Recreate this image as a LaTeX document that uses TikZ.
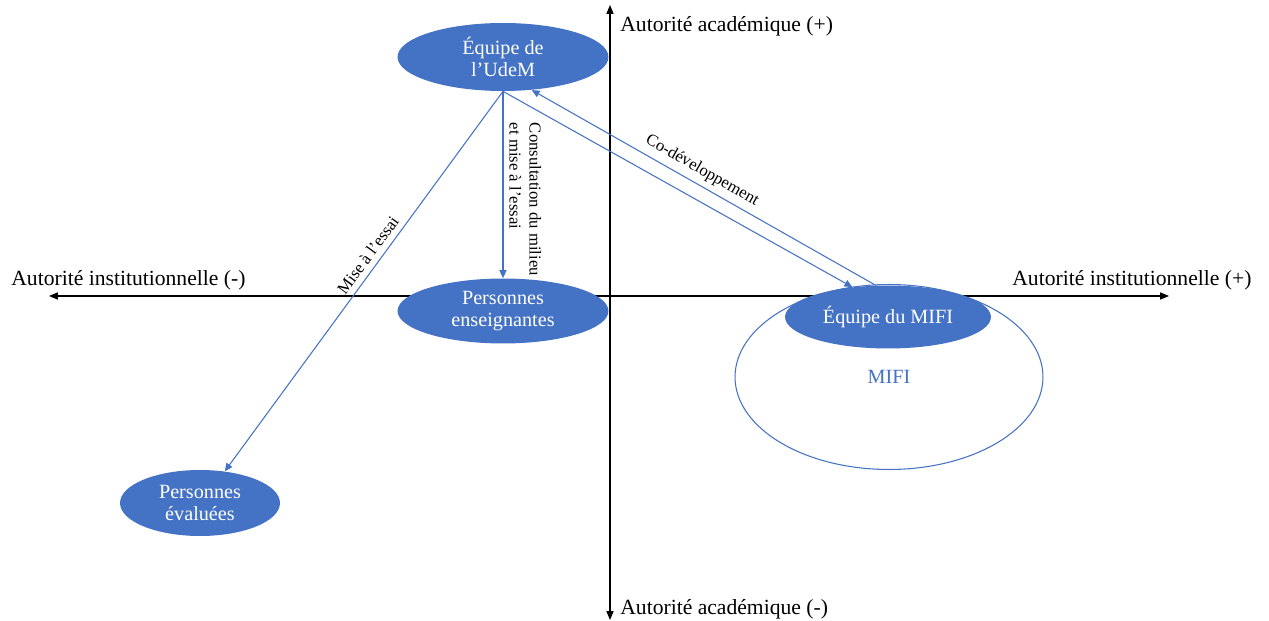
\documentclass[tikz,border=0pt]{standalone}
\usepackage[svgnames, dvipsnames, usenames]{xcolor}
\usepackage{fontspec}
\setmainfont{Liberation Serif}
\usepackage{tikz}
\usetikzlibrary{arrows.meta,shapes.geometric}
\definecolor{udemblue}{HTML}{4472C4}

\begin{document}
\begin{tikzpicture}[x=0.02cm, y=-0.02cm,
bluenode/.style={ellipse, fill=udemblue, text=white, inner sep=0pt, align=center, font=\fontsize{11.5}{13}\selectfont},
link/.style={color=udemblue, line width=0.6pt, -{Triangle[length=4.5pt,width=4pt]}},
linklabel/.style={text=black, font=\fontsize{9.5}{11.4}\selectfont},
axislabel/.style={anchor=west, inner sep=0pt, font=\fontsize{12.3}{14}\selectfont}]
\useasboundingbox (0,0) rectangle (1269,621);
%%%%% Axis %%%%%
\coordinate (acadtop) at (610,5);
\coordinate (acadbot) at (610,620);
\coordinate (instleft) at (49,296);
\coordinate (instright) at (1169,296);
\draw[line width=0.6pt, {Triangle[length=5pt,width=4pt]}-{Triangle[length=5pt,width=4pt]}] (acadbot)--(acadtop);
\draw[line width=0.6pt, {Triangle[length=5pt,width=4pt]}-{Triangle[length=5pt,width=4pt]}] (instleft)--(instright);
\node[axislabel] (acadplus) at (620,26) {Autorité académique (+)};
\node[axislabel] (acadminus) at (620,609) {Autorité académique (-)};
\node[axislabel] (instminus) at (11,280) {Autorité institutionnelle (-)};
\node[axislabel] (instplus) at (1012,280) {Autorité institutionnelle (+)};
%%%%% Acteurs %%%%%
\node[ellipse, draw=udemblue, line width=0.6pt, minimum width=6.16cm, minimum height=3.70cm, text=udemblue, font=\fontsize{11.5}{13}\selectfont] (mifi) at (889,377) {\raisebox{-4pt}{MIFI}};
\node[bluenode, minimum width=4.22cm, minimum height=1.36cm] (udem) at (503,57) {Équipe de\\l’UdeM};
\node[bluenode, minimum width=4.22cm, minimum height=1.30cm] (ens) at (503,311) {Personnes\\enseignantes};
\node[bluenode, minimum width=3.20cm, minimum height=1.32cm] (eval) at (200,503) {Personnes\\évaluées};
\node[bluenode, minimum width=4.12cm, minimum height=1.26cm] (mifiteam) at (888,317) {Équipe du MIFI};
%%%%% Liens %%%%%
\draw[link] (udem.south)--(ens.north) node[linklabel, pos=0.135, rotate=-90, anchor=south west, align=left] {Consultation du milieu\\et mise à l’essai};
\draw[link] (udem.south)--(eval.52) node[linklabel, pos=0.45, sloped, above] {Mise à l’essai};
\draw[link] (udem.south)--(mifiteam.140);
\draw[link] (mifiteam.111)--(udem.-49) node[linklabel, pos=0.525, sloped, above] {Co-développement};
\end{tikzpicture}
\end{document}
